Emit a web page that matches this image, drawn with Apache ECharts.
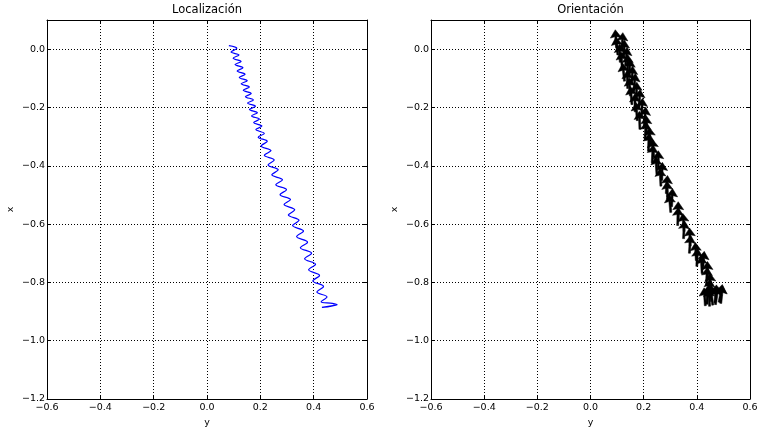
<!DOCTYPE html>
<html>
<head>
<meta charset="utf-8">
<script src="https://cdn.jsdelivr.net/npm/echarts@6/dist/echarts.min.js"></script>
<style>html,body{margin:0;padding:0;background:#fff}#c{width:758px;height:427px}</style>
</head>
<body>
<div id="c"></div>
<script>
// Titles and axis labels
var titles = ['Localización', 'Orientación'];
var xAxisName = 'y';
var yAxisName = 'x';
var xTicks = [-0.6, -0.4, -0.2, 0.0, 0.2, 0.4, 0.6];
var yTicks = [-1.2, -1.0, -0.8, -0.6, -0.4, -0.2, 0.0];
var yTop = 0.1;

// Trajectory (left panel): horizontal "y", vertical "x"
var trajY = [0.082,0.112,0.090,0.120,0.098,0.128,0.105,0.135,0.113,0.143,0.121,0.151,0.128,0.159,0.136,0.166,0.144,0.174,0.152,0.182,0.159,0.189,0.167,0.197,0.175,0.206,0.183,0.215,0.192,0.226,0.203,0.240,0.215,0.252,0.229,0.267,0.243,0.283,0.258,0.298,0.274,0.313,0.289,0.329,0.305,0.345,0.321,0.362,0.336,0.377,0.350,0.392,0.366,0.407,0.381,0.422,0.397,0.437,0.412,0.450,0.428,0.470,0.488,0.450,0.431,0.478,0.462,0.440];
var trajX = [0.012,0.003,-0.010,-0.020,-0.031,-0.042,-0.053,-0.064,-0.075,-0.086,-0.097,-0.108,-0.119,-0.130,-0.141,-0.152,-0.163,-0.174,-0.185,-0.196,-0.207,-0.218,-0.229,-0.240,-0.252,-0.264,-0.276,-0.289,-0.302,-0.316,-0.332,-0.348,-0.364,-0.380,-0.397,-0.414,-0.431,-0.448,-0.465,-0.482,-0.499,-0.516,-0.533,-0.551,-0.569,-0.587,-0.605,-0.624,-0.643,-0.662,-0.681,-0.700,-0.719,-0.738,-0.757,-0.776,-0.795,-0.814,-0.833,-0.850,-0.866,-0.872,-0.877,-0.884,-0.886,-0.879,-0.882,-0.885];

// Orientation arrows (right panel): tail positions and tilt from vertical (deg)
var arrowY = [0.098,0.118,0.103,0.125,0.112,0.132,0.120,0.140,0.145,0.128,0.155,0.140,0.163,0.150,0.172,0.156,0.182,0.168,0.192,0.176,0.202,0.186,0.210,0.205,0.225,0.218,0.238,0.232,0.255,0.250,0.268,0.265,0.285,0.290,0.305,0.302,0.330,0.328,0.352,0.350,0.375,0.372,0.398,0.400,0.422,0.420,0.440,0.436,0.452,0.445,0.455,0.438,0.460,0.468,0.432,0.470,0.484,0.448,0.490];
var arrowX = [0.005,-0.005,-0.020,-0.030,-0.045,-0.055,-0.070,-0.080,-0.095,-0.110,-0.120,-0.135,-0.145,-0.160,-0.175,-0.190,-0.200,-0.215,-0.230,-0.245,-0.260,-0.275,-0.290,-0.310,-0.330,-0.350,-0.370,-0.390,-0.410,-0.430,-0.450,-0.470,-0.495,-0.515,-0.540,-0.560,-0.585,-0.605,-0.625,-0.650,-0.675,-0.700,-0.725,-0.745,-0.755,-0.770,-0.790,-0.810,-0.830,-0.850,-0.865,-0.875,-0.878,-0.870,-0.880,-0.876,-0.868,-0.882,-0.872];
var arrowTilt = [-4,3,-6,2,-3,5,-5,0,4,-6,3,-2,5,-4,2,-5,4,-1,3,-4,5,-2,0,4,-3,2,-5,3,0,-4,2,-3,4,-2,3,-5,0,2,-4,3,-2,4,-3,2,5,-3,0,3,-2,4,-6,2,-8,5,-4,8,10,-3,6];

var FONT = 'DejaVu Sans';
function fmt(v){
  if (Math.abs(v - yTop) < 1e-6) return '';
  if (Math.abs(v) < 1e-9) v = 0;
  return v.toFixed(1).replace('-', '\u2212');
}
var gridDefs = [
  {left:47, top:20, width:320, height:379, containLabel:false, outerBoundsMode:'none'},
  {left:431, top:20, width:319, height:379, containLabel:false, outerBoundsMode:'none'}
];
var xAxes = [], yAxes = [];
gridDefs.forEach(function(g, i){
  var axisLine = {show:true, onZero:false, lineStyle:{color:'#000', width:1}};
  var tick = {show:true, inside:true, length:4, lineStyle:{color:'#000', width:1}};
  var split = {show:true, lineStyle:{color:'#000', width:1, type:[1,2]}};
  xAxes.push({type:'value', gridIndex:i, position:'bottom', min:xTicks[0], max:xTicks[xTicks.length-1], interval:0.2,
    axisLine:axisLine, axisTick:tick, splitLine:split,
    axisLabel:{color:'#000', fontFamily:FONT, fontSize:9.5, margin:4, formatter:fmt},
    name:xAxisName, nameLocation:'middle', nameGap:15, nameTextStyle:{color:'#000', fontFamily:FONT, fontSize:9.5}});
  xAxes.push({type:'value', gridIndex:i, position:'top', min:xTicks[0], max:xTicks[xTicks.length-1], interval:0.2,
    axisLine:axisLine, axisTick:tick, splitLine:{show:false}, axisLabel:{show:false},
    name:titles[i], nameLocation:'middle', nameGap:4, nameTextStyle:{color:'#000', fontFamily:FONT, fontSize:11.5, verticalAlign:'bottom'}});
  yAxes.push({type:'value', gridIndex:i, position:'left', min:yTicks[0], max:yTop, interval:0.2,
    axisLine:axisLine, axisTick:tick, splitLine:split,
    axisLabel:{color:'#000', fontFamily:FONT, fontSize:9.5, margin:2, formatter:fmt},
    name:yAxisName, nameLocation:'middle', nameGap:31, nameRotate:90, nameTextStyle:{color:'#000', fontFamily:FONT, fontSize:9.5}});
  yAxes.push({type:'value', gridIndex:i, position:'right', min:yTicks[0], max:yTop, interval:0.2,
    axisLine:axisLine, axisTick:tick, splitLine:{show:false}, axisLabel:{show:false}});
});

var trajData = trajY.map(function(v, k){ return [v, trajX[k]]; });
var arrowData = arrowY.map(function(v, k){ return [v, arrowX[k], arrowTilt[k]]; });

var chart = echarts.init(document.getElementById('c'), null, {renderer:'canvas'});
chart.setOption({
  animation:false,
  backgroundColor:'#fff',
  grid: gridDefs,
  xAxis: xAxes,
  yAxis: yAxes,
  series:[
    {type:'line', xAxisIndex:0, yAxisIndex:0, data:trajData, showSymbol:false, symbol:'none', smooth:0.35,
     lineStyle:{color:'#0000ff', width:1.2}, clip:true},
    {type:'custom', xAxisIndex:2, yAxisIndex:2, data:arrowData, encode:{x:0, y:1}, clip:true,
     renderItem:function(params, api){
       var p = api.coord([api.value(0), api.value(1)]);
       var a = api.value(2) * Math.PI / 180;
       var dx = Math.sin(a), dy = -Math.cos(a);
       var nx = -dy, ny = dx;
       var L = 18, H = 8, hw = 5.5, sw = 1, back = 1;
       function P(u, v){ return [p[0] + dx*u + nx*v, p[1] + dy*u + ny*v]; }
       var pts = [P(0,-sw), P(L-H+back,-sw), P(L-H,-hw), P(L,0), P(L-H,hw), P(L-H+back,sw), P(0,sw)];
       return {type:'polygon', shape:{points:pts}, style:{fill:'#000', stroke:'#000', lineWidth:0.5}};
     }}
  ]
});
</script>
</body>
</html>
